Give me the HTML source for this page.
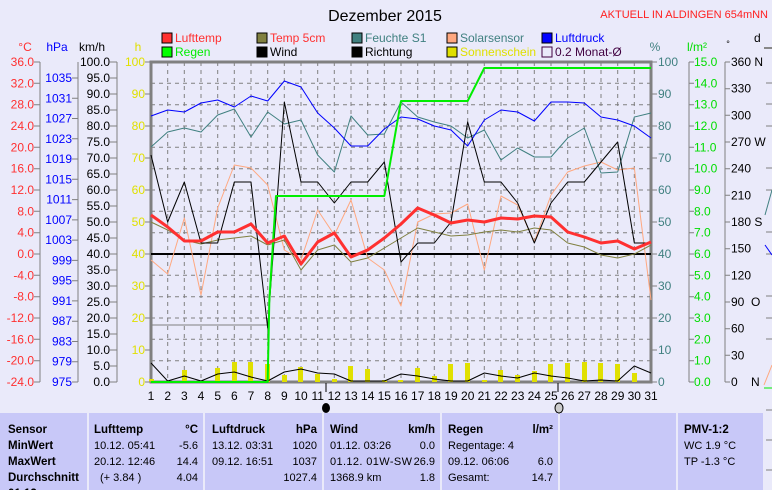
<!DOCTYPE html>
<html><head><meta charset="utf-8"><style>
html,body{margin:0;padding:0;background:#eaeafa;}
svg{display:block;font-family:"Liberation Sans",sans-serif;}
.t{font-size:12px}
.b{font-weight:bold}
.tb{font-size:11px}
.tb .b{font-size:11.5px}
</style></head><body>
<svg width="772" height="490" viewBox="0 0 772 490" xmlns="http://www.w3.org/2000/svg">
<rect width="772" height="490" fill="#eaeafa"/>
<text x="385" y="21" font-size="16" text-anchor="middle" fill="#000">Dezember 2015</text>
<text x="768" y="18" font-size="11" text-anchor="end" fill="#ff2020">AKTUELL IN ALDINGEN 654mNN</text>
<g class="t">
<rect x="162" y="33" width="10" height="10" fill="#ff3030" stroke="#000"/><text x="175" y="42" fill="#ff3030">Lufttemp</text>
<rect x="162" y="47" width="10" height="10" fill="#00ff00" stroke="#000"/><text x="175" y="56" fill="#00ee00">Regen</text>
<rect x="257" y="33" width="10" height="10" fill="#808040" stroke="#000"/><text x="270" y="42" fill="#ff3030">Temp 5cm</text>
<rect x="257" y="47" width="10" height="10" fill="#000" stroke="#000"/><text x="270" y="56" fill="#000">Wind</text>
<rect x="352" y="33" width="10" height="10" fill="#408080" stroke="#000"/><text x="365" y="42" fill="#408080">Feuchte S1</text>
<rect x="352" y="47" width="10" height="10" fill="#000" stroke="#000"/><text x="365" y="56" fill="#000">Richtung</text>
<rect x="447" y="33" width="10" height="10" fill="#ffa880" stroke="#000"/><text x="460" y="42" fill="#408080">Solarsensor</text>
<rect x="447" y="47" width="10" height="10" fill="#e0e000" stroke="#000"/><text x="460" y="56" fill="#e0e000">Sonnenschein</text>
<rect x="542" y="33" width="10" height="10" fill="#0000ff" stroke="#000"/><text x="555" y="42" fill="#0000ff">Luftdruck</text>
<rect x="542" y="47" width="10" height="10" fill="none" stroke="#400040"/><text x="555" y="56" fill="#400040">0.2 Monat-Ø</text>
</g>
<g class="t">
<text x="25" y="51" fill="#ff3030" text-anchor="middle">°C</text>
<text x="57" y="51" fill="#0000ff" text-anchor="middle">hPa</text>
<text x="92" y="51" fill="#000" text-anchor="middle">km/h</text>
<text x="138" y="51" fill="#e0e000" text-anchor="middle">h</text>
<text x="655" y="51" fill="#408080" text-anchor="middle">%</text>
<text x="697" y="51" fill="#00dd00" text-anchor="middle">l/m²</text>
<text x="728" y="47" fill="#000" text-anchor="middle" font-size="9">°</text>
<text x="754" y="42" fill="#000">d</text>
</g>
<line x1="764" y1="48" x2="772" y2="48" stroke="#888" stroke-width="2"/>
<g stroke="#808080" stroke-dasharray="4,4" stroke-width="1">
<path d="M167.7 62V382M184.3 62V382M201 62V382M217.7 62V382M234.3 62V382M251 62V382M267.7 62V382M284.3 62V382M301 62V382M317.7 62V382M334.3 62V382M351 62V382M367.7 62V382M384.3 62V382M401 62V382M417.7 62V382M434.3 62V382M451 62V382M467.7 62V382M484.3 62V382M501 62V382M517.7 62V382M534.3 62V382M551 62V382M567.7 62V382M584.3 62V382M601 62V382M617.7 62V382M634.3 62V382"/>
<path d="M151 83.3H651M151 104.7H651M151 126H651M151 147.3H651M151 168.7H651M151 190H651M151 211.3H651M151 232.7H651M151 254H651M151 275.3H651M151 296.7H651M151 318H651M151 339.3H651M151 360.7H651"/>
</g>
<rect x="151" y="62" width="500" height="320" fill="none" stroke="#808080" stroke-width="3"/>
<line x1="151" y1="254" x2="651" y2="254" stroke="#000" stroke-width="2"/>
<g fill="#e0e000">
<rect x="149" y="379" width="5" height="3"/><rect x="182" y="370" width="5" height="12"/><rect x="215" y="368" width="5" height="14"/><rect x="232" y="362" width="5" height="20"/><rect x="248" y="362" width="5" height="20"/><rect x="265" y="364" width="5" height="18"/><rect x="282" y="375" width="5" height="7"/><rect x="298" y="367" width="5" height="15"/><rect x="315" y="374" width="5" height="8"/><rect x="332" y="379" width="5" height="3"/><rect x="348" y="366" width="5" height="16"/><rect x="365" y="369" width="5" height="13"/><rect x="382" y="380" width="5" height="2"/><rect x="398" y="380" width="5" height="2"/><rect x="415" y="368" width="5" height="14"/><rect x="432" y="376" width="5" height="6"/><rect x="448" y="364" width="5" height="18"/><rect x="465" y="363" width="5" height="19"/><rect x="482" y="380" width="5" height="2"/><rect x="498" y="370" width="5" height="12"/><rect x="515" y="375" width="5" height="7"/><rect x="532" y="371" width="5" height="11"/><rect x="548" y="364" width="5" height="18"/><rect x="565" y="363" width="5" height="19"/><rect x="582" y="362" width="5" height="20"/><rect x="598" y="363" width="5" height="19"/><rect x="615" y="364" width="5" height="18"/><rect x="632" y="373" width="5" height="9"/>
</g>
<g transform="translate(151,0) scale(16.6667,1)" fill="none" stroke-linejoin="round">
<polyline vector-effect="non-scaling-stroke" stroke="#808080" stroke-width="1" points="0,325 7,325 7,340"/>
<polyline vector-effect="non-scaling-stroke" stroke="#808080" stroke-width="1" points="15,101 19,101"/>
<polyline vector-effect="non-scaling-stroke" stroke="#ffa880" stroke-width="1" points="0,260 1,274 2,218 3,295 4,208 5,165 6,168 7,185 8,250 9,260 10,210 11,235 12,200 13,258 14,270 15,306 16,222 17,214 18,213 19,204 20,270 21,196 22,205 23,242 24,195 25,172 26,166 27,162 28,170 29,168 30,300"/>
<polyline vector-effect="non-scaling-stroke" stroke="#408080" stroke-width="1" points="0,147 1,132 2,128 3,132 4,115 5,109 6,137 7,112 8,124 9,120 10,155 11,172 12,116 13,135 14,134 15,102 16,117 17,122 18,126 19,138 20,130 21,160 22,148 23,157 24,157 25,138 26,128 27,173 28,172 29,117 30,113"/>
<polyline vector-effect="non-scaling-stroke" stroke="#0000ff" stroke-width="1" points="0,116 1,110 2,112 3,103 4,100 5,107 6,96 7,101 8,81 9,87 10,113 11,128 12,146 13,146 14,129 15,117 16,119 17,126 18,130 19,146 20,120 21,110 22,112 23,121 24,102 25,102 26,103 27,117 28,120 29,126 30,138"/>
<polyline vector-effect="non-scaling-stroke" stroke="#808040" stroke-width="1" points="0,222 1,230 2,240 3,244 4,240 5,238 6,236 7,245 8,240 9,270 10,250 11,245 12,262 13,258 14,248 15,238 16,228 17,232 18,236 19,235 20,232 21,230 22,232 23,228 24,230 25,243 26,247 27,255 28,258 29,254 30,245"/>
<polyline vector-effect="non-scaling-stroke" stroke="#000" stroke-width="1" points="0,155 1,222 2,182 3,243 4,243 5,182 6,182 7,328 8,102 9,182 10,182 11,203 12,182 13,182 14,162 15,262 16,243 17,243 18,222 19,122 20,182 21,182 22,203 23,243 24,203 25,182 26,182 27,162 28,142 29,243 30,243"/>
<polyline vector-effect="non-scaling-stroke" stroke="#000" stroke-width="1" points="0,363 1,381 2,376 3,381 4,374 5,372 6,377 7,381 8,372 9,369 10,373 11,374 12,381 13,381 14,381 15,374 16,376 17,379 18,381 19,381 20,373 21,376 22,378 23,373 24,376 25,378 26,381 27,380 28,381 29,366 30,373"/>
<polyline vector-effect="non-scaling-stroke" stroke="#00ee00" stroke-width="2" points="0,382 7,382 7.1,300 7.5,196 14,196 15,101 19,101 20,68 30,68"/>
<polyline vector-effect="non-scaling-stroke" stroke="#ff3030" stroke-width="3" points="0,215 1,227 2,241 3,241 4,232 5,232 6,224 7,243 8,236 9,264 10,242 11,233 12,257 13,250 14,238 15,224 16,208 17,215 18,223 19,220 20,222 21,218 22,219 23,216 24,217 25,232 26,237 27,243 28,241 29,249 30,242"/>
</g>
<g stroke="#808080" stroke-width="1" fill="none">
<line x1="40" y1="62" x2="40" y2="382"/>
<line x1="78" y1="62" x2="78" y2="382"/>
<line x1="117" y1="62" x2="117" y2="382"/>
<path d="M34 62h6M34 83.3h6M34 104.7h6M34 126h6M34 147.3h6M34 168.7h6M34 190h6M34 211.3h6M34 232.7h6M34 254h6M34 275.3h6M34 296.7h6M34 318h6M34 339.3h6M34 360.7h6M34 382h6"/>
<path d="M72 78h6M72 98.3h6M72 118.5h6M72 138.8h6M72 159h6M72 179.3h6M72 199.6h6M72 219.9h6M72 240.1h6M72 260.4h6M72 280.7h6M72 300.9h6M72 321.2h6M72 341.5h6M72 361.7h6M72 382h6"/>
<path d="M110 62h7M110 78h7M110 94h7M110 110h7M110 126h7M110 142h7M110 158h7M110 174h7M110 190h7M110 206h7M110 222h7M110 238h7M110 254h7M110 270h7M110 286h7M110 302h7M110 318h7M110 334h7M110 350h7M110 366h7M110 382h7"/>
<path d="M145 62h6M145 94h6M145 126h6M145 158h6M145 190h6M145 222h6M145 254h6M145 286h6M145 318h6M145 350h6M145 382h6"/>
<line x1="689" y1="62" x2="689" y2="382"/>
<line x1="725" y1="62" x2="725" y2="382"/>
<path d="M651 62h6M651 94h6M651 126h6M651 158h6M651 190h6M651 222h6M651 254h6M651 286h6M651 318h6M651 350h6M651 382h6"/>
<path d="M689 62h5M689 83.3h5M689 104.7h5M689 126h5M689 147.3h5M689 168.7h5M689 190h5M689 211.3h5M689 232.7h5M689 254h5M689 275.3h5M689 296.7h5M689 318h5M689 339.3h5M689 360.7h5M689 382h5"/>
<path d="M725 62h5M725 88.7h5M725 115.3h5M725 142h5M725 168.7h5M725 195.3h5M725 222h5M725 248.7h5M725 275.3h5M725 302h5M725 328.7h5M725 355.3h5M725 382h5"/>
</g>
<g class="t" text-anchor="end" fill="#ff3030">
<text x="34" y="66">36.0</text><text x="34" y="87.3">32.0</text><text x="34" y="108.7">28.0</text><text x="34" y="130">24.0</text><text x="34" y="151.3">20.0</text><text x="34" y="172.7">16.0</text><text x="34" y="194">12.0</text><text x="34" y="215.3">8.0</text><text x="34" y="236.7">4.0</text><text x="34" y="258">0.0</text><text x="34" y="279.3">-4.0</text><text x="34" y="300.7">-8.0</text><text x="34" y="322">-12.0</text><text x="34" y="343.3">-16.0</text><text x="34" y="364.7">-20.0</text><text x="34" y="386">-24.0</text>
</g>
<g class="t" text-anchor="end" fill="#0000ff">
<text x="72" y="82">1035</text><text x="72" y="102.3">1031</text><text x="72" y="122.5">1027</text><text x="72" y="142.8">1023</text><text x="72" y="163">1019</text><text x="72" y="183.3">1015</text><text x="72" y="203.6">1011</text><text x="72" y="223.9">1007</text><text x="72" y="244.1">1003</text><text x="72" y="264.4">999</text><text x="72" y="284.7">995</text><text x="72" y="304.9">991</text><text x="72" y="325.2">987</text><text x="72" y="345.5">983</text><text x="72" y="365.7">979</text><text x="72" y="386">975</text>
</g>
<g class="t" text-anchor="end" fill="#000">
<text x="110" y="66">100.0</text><text x="110" y="82">95.0</text><text x="110" y="98">90.0</text><text x="110" y="114">85.0</text><text x="110" y="130">80.0</text><text x="110" y="146">75.0</text><text x="110" y="162">70.0</text><text x="110" y="178">65.0</text><text x="110" y="194">60.0</text><text x="110" y="210">55.0</text><text x="110" y="226">50.0</text><text x="110" y="242">45.0</text><text x="110" y="258">40.0</text><text x="110" y="274">35.0</text><text x="110" y="290">30.0</text><text x="110" y="306">25.0</text><text x="110" y="322">20.0</text><text x="110" y="338">15.0</text><text x="110" y="354">10.0</text><text x="110" y="370">5.0</text><text x="110" y="386">0.0</text>
</g>
<g class="t" text-anchor="end" fill="#e0e000">
<text x="145" y="66">100</text><text x="145" y="98">90</text><text x="145" y="130">80</text><text x="145" y="162">70</text><text x="145" y="194">60</text><text x="145" y="226">50</text><text x="145" y="258">40</text><text x="145" y="290">30</text><text x="145" y="322">20</text><text x="145" y="354">10</text><text x="145" y="386">0</text>
</g>
<g class="t" fill="#408080">
<text x="658" y="66">100</text><text x="658" y="98">90</text><text x="658" y="130">80</text><text x="658" y="162">70</text><text x="658" y="194">60</text><text x="658" y="226">50</text><text x="658" y="258">40</text><text x="658" y="290">30</text><text x="658" y="322">20</text><text x="658" y="354">10</text><text x="658" y="386">0</text>
</g>
<g class="t" fill="#00dd00">
<text x="694" y="66">15.0</text><text x="694" y="87.3">14.0</text><text x="694" y="108.7">13.0</text><text x="694" y="130">12.0</text><text x="694" y="151.3">11.0</text><text x="694" y="172.7">10.0</text><text x="694" y="194">9.0</text><text x="694" y="215.3">8.0</text><text x="694" y="236.7">7.0</text><text x="694" y="258">6.0</text><text x="694" y="279.3">5.0</text><text x="694" y="300.7">4.0</text><text x="694" y="322">3.0</text><text x="694" y="343.3">2.0</text><text x="694" y="364.7">1.0</text><text x="694" y="386">0.0</text>
</g>
<g class="t" fill="#000">
<text x="731" y="66">360 N</text><text x="731" y="92.7">330</text><text x="731" y="119.3">300</text><text x="731" y="146">270 W</text><text x="731" y="172.7">240</text><text x="731" y="199.3">210</text><text x="731" y="226">180 S</text><text x="731" y="252.7">150</text><text x="731" y="279.3">120</text><text x="731" y="306">90&#160;&#160;O</text><text x="731" y="332.7">60</text><text x="731" y="359.3">30</text><text x="731" y="386">0&#160;&#160;&#160;&#160;N</text>
</g>
<g stroke="#808080" stroke-width="1">
<path d="M766 83h6M766 104h6M766 126h6M766 168h6M766 190h6M766 232h6M766 254h6M766 296h6M766 318h6M766 339h6M766 410h6M766 440h6M766 470h6"/>
</g>
<polyline points="765,215 772,190" stroke="#408080" fill="none"/>
<polyline points="765,245 772,255" stroke="#0000ff" fill="none"/>
<polyline points="764,385 772,365" stroke="#ffa880" fill="none"/>
<line x1="764" y1="388" x2="772" y2="388" stroke="#00ee00"/>
<g class="t" text-anchor="middle" fill="#000">
<text x="151" y="400">1</text><text x="167.7" y="400">2</text><text x="184.3" y="400">3</text><text x="201" y="400">4</text><text x="217.7" y="400">5</text><text x="234.3" y="400">6</text><text x="251" y="400">7</text><text x="267.7" y="400">8</text><text x="284.3" y="400">9</text><text x="301" y="400">10</text><text x="317.7" y="400">11</text><text x="334.3" y="400">12</text><text x="351" y="400">13</text><text x="367.7" y="400">14</text><text x="384.3" y="400">15</text><text x="401" y="400">16</text><text x="417.7" y="400">17</text><text x="434.3" y="400">18</text><text x="451" y="400">19</text><text x="467.7" y="400">20</text><text x="484.3" y="400">21</text><text x="501" y="400">22</text><text x="517.7" y="400">23</text><text x="534.3" y="400">24</text><text x="551" y="400">25</text><text x="567.7" y="400">26</text><text x="584.3" y="400">27</text><text x="601" y="400">28</text><text x="617.7" y="400">29</text><text x="634.3" y="400">30</text><text x="651" y="400">31</text>
</g>
<line x1="326" y1="383" x2="326" y2="392" stroke="#000"/>
<line x1="558" y1="383" x2="558" y2="392" stroke="#000"/>
<ellipse cx="326" cy="408" rx="4" ry="5" fill="#000"/>
<ellipse cx="559" cy="408" rx="4" ry="5" fill="#ccc" stroke="#000"/>
<g fill="#c8c8f8">
<rect x="0" y="413" width="87" height="77"/><rect x="89" y="413" width="114" height="77"/><rect x="205" y="413" width="117" height="77"/><rect x="324" y="413" width="116" height="77"/><rect x="442" y="413" width="116" height="77"/><rect x="560" y="413" width="116" height="77"/><rect x="678" y="413" width="85" height="77"/>
</g>
<g class="tb" fill="#000">
<text x="8" y="433" class="b">Sensor</text><text x="8" y="449" class="b">MinWert</text><text x="8" y="465" class="b">MaxWert</text><text x="8" y="481" class="b">Durchschnitt</text><text x="8" y="497" class="b">01.12.</text>
<text x="94" y="433" class="b">Lufttemp</text><text x="198" y="433" class="b" text-anchor="end">°C</text>
<text x="94" y="449">10.12.  05:41</text><text x="198" y="449" text-anchor="end">-5.6</text>
<text x="94" y="465">20.12.  12:46</text><text x="198" y="465" text-anchor="end">14.4</text>
<text x="100" y="481">(+ 3.84 )</text><text x="198" y="481" text-anchor="end">4.04</text>
<text x="212" y="433" class="b">Luftdruck</text><text x="317" y="433" class="b" text-anchor="end">hPa</text>
<text x="212" y="449">13.12.  03:31</text><text x="317" y="449" text-anchor="end">1020</text>
<text x="212" y="465">09.12.  16:51</text><text x="317" y="465" text-anchor="end">1037</text>
<text x="317" y="481" text-anchor="end">1027.4</text>
<text x="330" y="433" class="b">Wind</text><text x="435" y="433" class="b" text-anchor="end">km/h</text>
<text x="330" y="449">01.12.  03:26</text><text x="435" y="449" text-anchor="end">0.0</text>
<text x="330" y="465" textLength="82">01.12.  01W-SW</text><text x="435" y="465" text-anchor="end">26.9</text>
<text x="330" y="481">1368.9 km</text><text x="435" y="481" text-anchor="end">1.8</text>
<text x="448" y="433" class="b">Regen</text><text x="553" y="433" class="b" text-anchor="end">l/m²</text>
<text x="448" y="449">Regentage: 4</text>
<text x="448" y="465">09.12.  06:06</text><text x="553" y="465" text-anchor="end">6.0</text>
<text x="448" y="481">Gesamt:</text><text x="553" y="481" text-anchor="end">14.7</text>
<text x="684" y="433" class="b">PMV-1:2</text>
<text x="684" y="449">WC 1.9 °C</text>
<text x="684" y="465">TP -1.3 °C</text>
</g>
</svg>
</body></html>
